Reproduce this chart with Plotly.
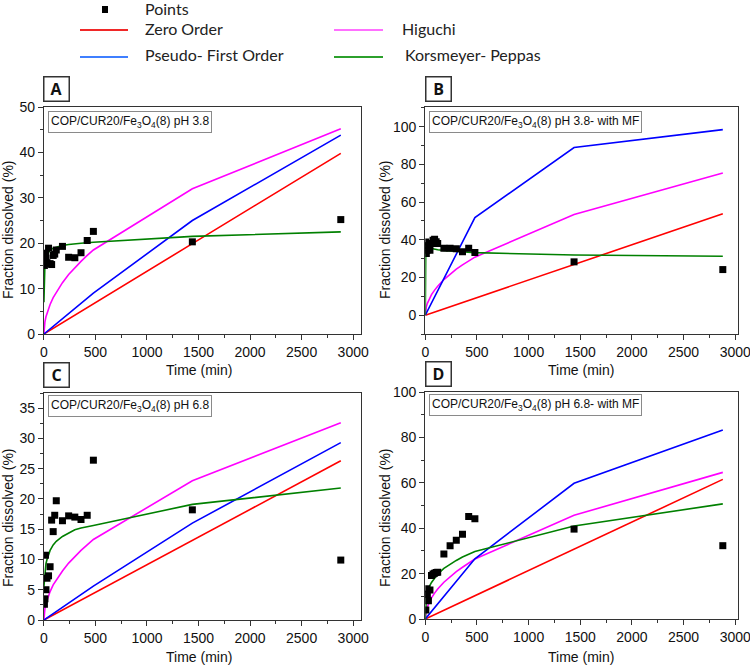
import plotly.graph_objects as go

W, H = 750, 665

# ---------------- data ----------------
T_PTS = [5, 10, 15, 20, 30, 45, 60, 75, 90, 105, 120, 180, 240, 300, 360, 420, 480, 1440, 2880]
A_pts = [15.1, 17.5, 17.8, 16.7, 15.7, 18.9, 15.5, 15.3, 17.3, 17.6, 18.5, 19.3, 16.9, 16.8, 17.9, 20.6, 22.6, 20.3, 25.2]
B_pts = [38.9, 32.7, 34.5, 37.0, 36.2, 34.5, 38.0, 39.8, 40.3, 39.0, 38.0, 35.5, 35.5, 35.2, 33.6, 35.5, 33.3, 28.3, 24.2]
C_pts = [2.6, 3.5, 10.7, 5.0, 6.9, 7.3, 8.8, 16.5, 14.6, 17.3, 19.7, 16.4, 17.2, 17.0, 16.6, 17.3, 26.4, 18.2, 9.9]
D_pts = [4.0, 11.0, 13.3, 10.8, 8.0, 12.8, 19.2, 19.8, 20.2, 20.5, 20.6, 28.6, 32.3, 34.7, 37.3, 45.1, 44.2, 39.6, 32.3]

T_LIN = [0, 480, 1440, 2880]
T_MOD = [0, 5, 10, 20, 30, 45, 60, 90, 120, 180, 240, 300, 360, 420, 480, 1440, 2880]

A_zero = [0, 6.6, 19.9, 39.8]
A_first = [0, 9.0, 25.0, 43.8]
A_higuchi = [0, 1.9, 2.7, 3.8, 4.6, 5.7, 6.5, 8.0, 9.2, 11.3, 13.1, 14.6, 16.0, 17.3, 18.5, 32.0, 45.2]
A_korsmeyer = [7.0, 14.5, 15.5, 16.8, 17.4, 18.0, 18.4, 18.9, 19.1, 19.5, 19.7, 19.9, 20.0, 20.1, 20.2, 21.5, 22.5]

B_zero = [0, 9.0, 26.9, 53.8]
B_first = [0, 51.8, 89.0, 98.5]
B_higuchi = [0, 3.1, 4.4, 6.3, 7.7, 9.4, 10.9, 13.3, 15.4, 18.9, 21.8, 24.4, 26.7, 28.8, 30.8, 53.4, 75.5]
B_korsmeyer = [0, 38.5, 37.3, 36.5, 36.1, 35.7, 35.4, 35.0, 34.7, 34.3, 34.0, 33.8, 33.6, 33.4, 33.2, 31.9, 31.3]

C_zero = [0, 4.4, 13.1, 26.3]
C_first = [0, 5.6, 16.0, 29.3]
C_higuchi = [0, 1.4, 1.9, 2.7, 3.3, 4.1, 4.7, 5.8, 6.6, 8.1, 9.4, 10.5, 11.5, 12.4, 13.3, 23.0, 32.6]
C_korsmeyer = [5.5, 6.8, 8.0, 9.3, 10.0, 10.9, 11.5, 12.4, 13.0, 13.8, 14.4, 14.9, 15.2, 15.4, 15.6, 19.1, 21.8]

D_zero = [0, 10.2, 30.7, 61.5]
D_first = [0, 26.5, 59.8, 83.3]
D_higuchi = [0, 2.7, 3.8, 5.4, 6.6, 8.1, 9.3, 11.4, 13.2, 16.2, 18.7, 20.9, 22.8, 24.7, 26.4, 45.7, 64.6]
D_korsmeyer = [0, 7.8, 9.5, 11.7, 13.2, 14.8, 16.1, 18.2, 19.8, 22.3, 24.2, 25.8, 27.3, 28.5, 29.7, 41.0, 50.7]

PANEL_LETTERS = ["A", "B", "C", "D"]
PANEL_LABELS = [
    "COP/CUR20/Fe<sub>3</sub>O<sub>4</sub>(8) pH 3.8",
    "COP/CUR20/Fe<sub>3</sub>O<sub>4</sub>(8) pH 3.8- with MF",
    "COP/CUR20/Fe<sub>3</sub>O<sub>4</sub>(8) pH 6.8",
    "COP/CUR20/Fe<sub>3</sub>O<sub>4</sub>(8) pH 6.8- with MF",
]
LEGEND_NAMES = ["Points", "Zero Order", "Pseudo- First Order", "Higuchi", "Korsmeyer- Peppas"]

# ---------------- layout geometry (pixels) ----------------
def fx(p):
    return p / W


def fy(p):
    return 1 - p / H


panels = [
    dict(pts=A_pts, zero=A_zero, first=A_first, hig=A_higuchi, kor=A_korsmeyer,
         xpx=(43.9, 361), ypx=(107, 334), xr=[0, 3076], yr=[0, 50], dy=10, mdy=5),
    dict(pts=B_pts, zero=B_zero, first=B_first, hig=B_higuchi, kor=B_korsmeyer,
         xpx=(425.3, 738), ypx=(107, 334), xr=[0, 3027], yr=[-10, 110.5], dy=20, mdy=10),
    dict(pts=C_pts, zero=C_zero, first=C_first, hig=C_higuchi, kor=C_korsmeyer,
         xpx=(43.9, 361), ypx=(393, 620), xr=[0, 3076], yr=[0, 37.5], dy=5, mdy=2.5),
    dict(pts=D_pts, zero=D_zero, first=D_first, hig=D_higuchi, kor=D_korsmeyer,
         xpx=(425.3, 738), ypx=(392, 619), xr=[0, 3027], yr=[0, 100], dy=20, mdy=10),
]

RED, BLUE, MAG, GRN = "#ff0000", "#0000ff", "#ff00ff", "#008000"
SANS = "Liberation Sans"
AX_FONT = dict(family=SANS, size=14, color="#111111")

fig = go.Figure()
layout = dict(
    width=W, height=H, margin=dict(l=0, r=0, t=0, b=0),
    paper_bgcolor="white", plot_bgcolor="white", showlegend=False,
    font=dict(family=SANS),
)
annotations = []
shapes = []

for i, p in enumerate(panels):
    n = "" if i == 0 else str(i + 1)
    xa, ya = "x" + n, "y" + n
    lw = 1.6
    fig.add_trace(go.Scatter(x=T_LIN, y=p["zero"], mode="lines", line=dict(color=RED, width=lw),
                             xaxis=xa, yaxis=ya, name=LEGEND_NAMES[1]))
    fig.add_trace(go.Scatter(x=T_MOD, y=p["hig"], mode="lines", line=dict(color=MAG, width=lw),
                             xaxis=xa, yaxis=ya, name=LEGEND_NAMES[3]))
    fig.add_trace(go.Scatter(x=T_LIN, y=p["first"], mode="lines", line=dict(color=BLUE, width=lw),
                             xaxis=xa, yaxis=ya, name=LEGEND_NAMES[2]))
    fig.add_trace(go.Scatter(x=T_MOD, y=p["kor"], mode="lines", line=dict(color=GRN, width=lw),
                             xaxis=xa, yaxis=ya, name=LEGEND_NAMES[4]))
    fig.add_trace(go.Scatter(x=T_PTS, y=p["pts"], mode="markers",
                             marker=dict(symbol="square", size=7, color="black"),
                             xaxis=xa, yaxis=ya, name=LEGEND_NAMES[0]))

    common = dict(showline=True, mirror=True, linecolor="#333333", linewidth=1.2,
                  ticks="outside", ticklen=5, tickwidth=1, tickcolor="#333333",
                  showgrid=False, zeroline=False, tickfont=AX_FONT, automargin=False,
                  ticklabeloverflow="allow")
    layout["xaxis" + n] = dict(
        common, domain=[fx(p["xpx"][0]), fx(p["xpx"][1])], range=p["xr"], anchor=ya,
        tick0=0, dtick=500,
        minor=dict(dtick=250, ticks="outside", ticklen=3, tickcolor="#333333", showgrid=False))
    layout["yaxis" + n] = dict(
        common, domain=[fy(p["ypx"][1]), fy(p["ypx"][0])], range=p["yr"], anchor=xa,
        tick0=0, dtick=p["dy"],
        minor=dict(dtick=p["mdy"], ticks="outside", ticklen=3, tickcolor="#333333", showgrid=False))

    x0 = p["xpx"][0]
    y0 = p["ypx"][0]
    # inner label box
    annotations.append(dict(
        text=PANEL_LABELS[i], xref="paper", yref="paper",
        x=fx(x0 + 4), y=fy(y0 + 4 if i < 2 else y0 + 2), xanchor="left", yanchor="top",
        showarrow=False, font=dict(family=SANS, size=12, color="#111111"),
        bordercolor="#8a8a8a", borderwidth=1, borderpad=2, bgcolor="white"))
    # panel letter box
    annotations.append(dict(
        text="<b>%s</b>" % PANEL_LETTERS[i], xref="paper", yref="paper",
        x=fx(x0 - 0.5), y=fy(y0 - 31), xanchor="left", yanchor="top",
        showarrow=False, font=dict(family="Open Sans", size=16, color="#111111"),
        bordercolor="#333333", borderwidth=1.5, borderpad=0, width=24, height=23, bgcolor="white"))
    # axis titles
    ytc = 230 if i < 2 else 518
    ytx = 8 if i % 2 == 0 else 385
    annotations.append(dict(
        text="Fraction dissolved (%)", xref="paper", yref="paper",
        x=fx(ytx), y=fy(ytc), xanchor="center", yanchor="middle", textangle=-90,
        showarrow=False, font=dict(family=SANS, size=14, color="#111111")))
    xtx = 199 if i % 2 == 0 else 581
    xty = 370 if i < 2 else 657
    annotations.append(dict(
        text="Time (min)", xref="paper", yref="paper",
        x=fx(xtx), y=fy(xty), xanchor="center", yanchor="middle",
        showarrow=False, font=dict(family=SANS, size=14, color="#111111")))

# ---------------- manual legend at top ----------------
LEG_FONT = dict(family="Lato", size=16, color="#222222")
leg_items = [
    (LEGEND_NAMES[1], "#f02828", 80, 128, 30, 143),
    (LEGEND_NAMES[2], "#3f7fff", 80, 128, 57, 143),
    (LEGEND_NAMES[3], "#ff70ff", 334, 383, 30, 400),
    (LEGEND_NAMES[4], "#2ca02c", 334, 383, 57, 403),
]
shapes.append(dict(type="rect", xref="paper", yref="paper",
                   x0=fx(102), x1=fx(108), y0=fy(13), y1=fy(6),
                   fillcolor="black", line=dict(width=0)))
annotations.append(dict(text=LEGEND_NAMES[0], xref="paper", yref="paper", x=fx(143), y=fy(8),
                        xanchor="left", yanchor="middle", showarrow=False, font=LEG_FONT))
for name, col, lx0, lx1, ly, tx in leg_items:
    shapes.append(dict(type="line", xref="paper", yref="paper",
                       x0=fx(lx0), x1=fx(lx1), y0=fy(ly), y1=fy(ly),
                       line=dict(color=col, width=2)))
    annotations.append(dict(text=name, xref="paper", yref="paper", x=fx(tx), y=fy(ly - 2),
                            xanchor="left", yanchor="middle", showarrow=False, font=LEG_FONT))

layout["annotations"] = annotations
layout["shapes"] = shapes
fig.update_layout(**layout)
fig.write_html("out.html")
